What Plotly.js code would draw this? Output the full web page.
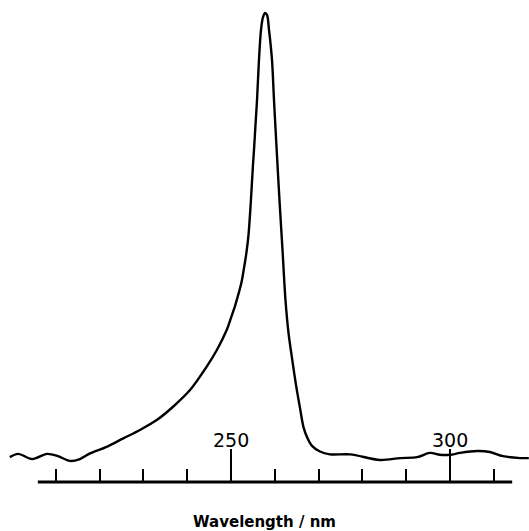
<!DOCTYPE html>
<html>
<head>
<meta charset="utf-8">
<script src="https://cdn.plot.ly/plotly-3.0.1.min.js"></script>
<style>html,body{margin:0;padding:0;background:#fff;}#chart{width:529px;height:531px;}</style>
</head>
<body>
<div id="chart"></div>
<script>
// Wavelength (nm) and relative absorbance
const wavelength = [199.5, 201.4, 204.6, 208.0, 210.5, 213.2, 215.5, 217.81, 221.62, 225.41,
  229.22, 233.04, 236.83, 240.64, 244.45, 246.74, 249.02, 250.0, 250.91, 251.71,
  252.40, 252.97, 253.54, 254.0, 254.41, 254.75, 255.02, 255.25, 255.59, 255.94,
  256.39, 256.85, 257.31, 257.76, 258.22, 258.68, 259.36, 259.82, 260.43, 261.07,
  261.76, 262.44, 263.13, 263.93, 264.84, 265.75, 266.55, 267.35, 268.49, 270.32,
  272.60, 277.2, 284.0, 288.6, 292.5, 295.4, 297.7, 300.0, 302.3, 306.2,
  309.1, 312.1, 316.0, 318.0];
const absorbance = [0.053, 0.060, 0.049, 0.060, 0.055, 0.045, 0.049, 0.061, 0.075, 0.093,
  0.111, 0.132, 0.161, 0.196, 0.246, 0.281, 0.324, 0.350, 0.375, 0.401,
  0.426, 0.456, 0.490, 0.527, 0.580, 0.633, 0.676, 0.708, 0.761, 0.814,
  0.900, 0.964, 0.991, 1.000, 0.996, 0.964, 0.900, 0.814, 0.708, 0.601,
  0.495, 0.388, 0.318, 0.264, 0.207, 0.158, 0.117, 0.096, 0.077, 0.065,
  0.059, 0.059, 0.047, 0.051, 0.053, 0.062, 0.058, 0.058, 0.062, 0.066,
  0.064, 0.055, 0.051, 0.051];
const majorTicks = [250, 300];
const majorTickLabels = ['250', '300'];
const minorTicks = [210, 220, 230, 240, 260, 270, 280, 290, 310];
const axisSpan = [205.9, 314.2];

const trace = {
  x: wavelength, y: absorbance, type: 'scatter', mode: 'lines',
  line: {color: '#000', width: 2.4, shape: 'spline', smoothing: 0.9},
  hoverinfo: 'skip'
};

const annotations = majorTicks.map((v, i) => ({
  x: v, xref: 'x', y: 0.088, yref: 'paper', text: majorTickLabels[i],
  showarrow: false, xanchor: 'center', yanchor: 'middle',
  font: {family: 'DejaVu Sans', size: 19, color: '#000'}
}));

const layout = {
  width: 529, height: 531,
  margin: {l: 0, r: 0, t: 0, b: 49},
  paper_bgcolor: '#fff', plot_bgcolor: '#fff',
  showlegend: false,
  xaxis: {
    range: [197.26, 318.04],
    tickmode: 'array', tickvals: majorTicks,
    ticks: 'inside', ticklen: 33, tickwidth: 2, tickcolor: '#000',
    showticklabels: false, showgrid: false, zeroline: false, showline: false,
    minor: {tickmode: 'array', tickvals: minorTicks, ticks: 'inside', ticklen: 13, tickwidth: 2, tickcolor: '#000', showgrid: false},
    title: {text: 'Wavelength / nm', standoff: 35,
      font: {family: 'DejaVu Sans', size: 15, color: '#000', weight: 'bold'}}
  },
  yaxis: {visible: false, range: [0, 1.0277]},
  shapes: [{type: 'line', xref: 'x', yref: 'paper', x0: axisSpan[0], x1: axisSpan[1], y0: 0, y1: 0,
    line: {color: '#000', width: 3}}],
  annotations: annotations
};

Plotly.newPlot('chart', [trace], layout, {staticPlot: true, displayModeBar: false});
</script>
</body>
</html>
